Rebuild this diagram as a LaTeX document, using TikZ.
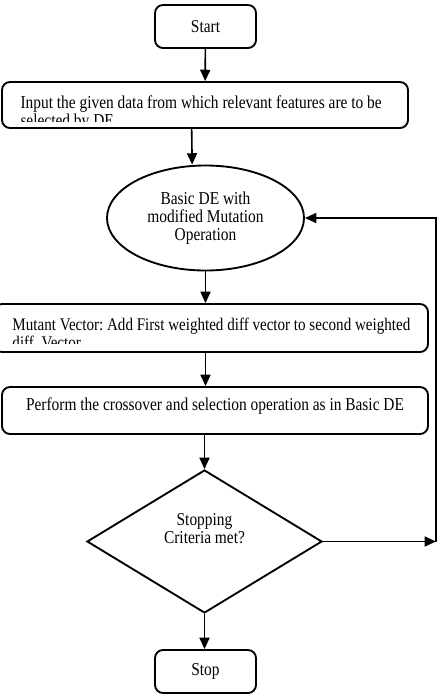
\documentclass[tikz,border=0pt]{standalone}
\usepackage{fontspec}
\setmainfont{Liberation Serif}
\newfontfamily\flowfont[FakeStretch=0.85]{Liberation Serif}
\usetikzlibrary{shapes.geometric,arrows.meta}
\frenchspacing

\tikzset{every picture/.style={line width=0.75pt}}

\begin{document}
\begin{tikzpicture}[x=0.75pt,y=0.75pt,yscale=-1,xscale=1,
  box/.style={draw,rounded corners=6pt,line width=1.4pt,inner sep=0pt,font=\flowfont\fontsize{13.6}{13.5}\selectfont},
  arr/.style={line width=1.2pt,-{Triangle[length=8.5pt,width=7.5pt]}},
  txt/.style={inner sep=0pt,font=\flowfont\fontsize{13.6}{13.5}\selectfont}]
\useasboundingbox (0,0) rectangle (441,697);

%Shape: Rounded Rectangle [id:start] 
\node[box,minimum width=75.75pt,minimum height=32.25pt] (start) at (205.5,26.5) {Start};
%Shape: Rounded Rectangle [id:input] 
\node[box,minimum width=304.5pt,minimum height=34.5pt] (input) at (205,105) {};
%Shape: Ellipse [id:basic] 
\node[draw,ellipse,line width=1.4pt,inner sep=0pt,align=center,minimum width=147.75pt,minimum height=78.75pt,font=\flowfont\fontsize{13.6}{13.5}\selectfont] (basic) at (205.5,218) {Basic DE with\\modified Mutation\\Operation};
%Shape: Rounded Rectangle [id:mutant] 
\node[box,minimum width=325.5pt,minimum height=36pt] (mutant) at (211,328) {};
%Shape: Rounded Rectangle [id:perform] 
\node[box,minimum width=319.5pt,minimum height=35.25pt] (perform) at (215,410.5) {};
%Shape: Diamond [id:dec] 
\node[draw,diamond,line width=1.4pt,inner sep=0pt,minimum width=176.25pt,minimum height=107.25pt] (dec) at (204.5,541.5) {};
%Shape: Rounded Rectangle [id:stop] 
\node[box,minimum width=75.75pt,minimum height=32.25pt] (stop) at (205.5,671.5) {Stop};

% Text Node
\begin{scope}
\clip (input.north west) rectangle ([yshift=-5.25pt]input.south east);
\node[txt,anchor=north west,align=left] (inputtext) at (20,95.5) {Input the given data from which relevant features are to be\\selected by DE};
\end{scope}
% Text Node
\begin{scope}
\clip (mutant.north west) rectangle ([yshift=-6.75pt]mutant.south east);
\node[txt,anchor=north west,align=left,font=\flowfont\fontsize{13.3}{13.5}\selectfont] (mutanttext) at (12,317.5) {Mutant Vector: Add First weighted diff vector to second weighted\\diff. Vector};
\end{scope}
% Text Node
\node[txt] (performtext) at (215,406) {Perform the crossover and selection operation as in Basic DE};
% Text Node
\node[txt,align=center] (dectext) at (204.5,528.5) {Stopping\\Criteria met?};

%Straight Lines [id:arrows] 
\draw[arr] (start) -- (input);
\draw[arr] ([xshift=-10pt]input.south) -- ([xshift=-10pt]basic.north);
\draw[arr] (basic.south) -- (basic.south |- mutant.north);
\draw[arr] (basic.south |- mutant.south) -- (basic.south |- perform.north);
\draw[arr] (perform.south -| dec.north) -- (dec.north);
\draw[arr] (dec.south) -- (dec.south |- stop.north);
%Loop back [id:loop] 
\path (dec.east) ++(113,0) coordinate (loop);
\draw[arr] (dec.east) -- (loop);
\draw[arr] (loop) |- (basic.east);

\end{tikzpicture}
\end{document}
